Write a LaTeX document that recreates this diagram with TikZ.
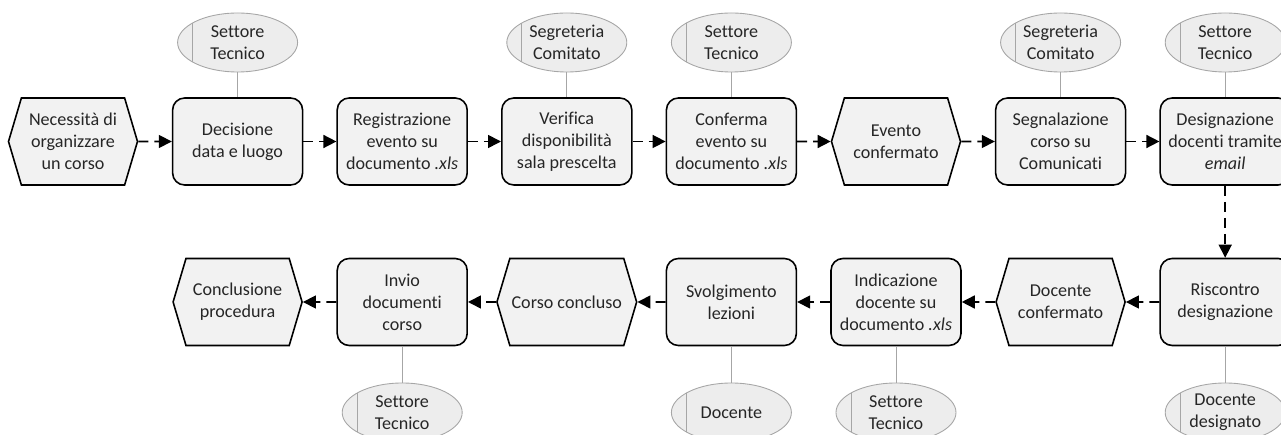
\documentclass[tikz,border=0pt]{standalone}
\usepackage{fontspec}
\setmainfont{Carlito}[Ligatures=NoCommon]
\usetikzlibrary{shapes.geometric,shapes.symbols,arrows.meta}
\definecolor{boxfill}{HTML}{F2F2F2}
\definecolor{rolefill}{HTML}{EDEDED}
\definecolor{roleline}{HTML}{A6A6A6}
\definecolor{txt}{HTML}{262626}

\begin{document}
\begin{tikzpicture}[
  every node/.style={font=\fontsize{10.3}{12.5}\selectfont,text=txt},
  func node/.style={draw,fill=boxfill,rounded corners=0.24cm,line width=0.9pt,
    minimum width=2.6cm,minimum height=1.74cm,align=center,inner sep=1pt},
  event node/.style={draw,fill=boxfill,signal,signal to=west and east,
    signal pointer angle=147,line width=0.9pt,minimum width=2.58cm,
    minimum height=1.74cm,align=center,inner sep=1pt},
  role node/.style={ellipse,draw=roleline,fill=rolefill,line width=0.5pt,
    minimum width=2.4cm,minimum height=1.18cm,align=center,inner sep=0pt,
    path picture={\draw[roleline,line width=0.5pt]
      ([xshift=0.3cm]path picture bounding box.north west) --
      ([xshift=0.3cm]path picture bounding box.south west);}},
  flow/.style={line width=0.9pt,dash pattern=on 0.2cm off 0.12cm,
    -{Triangle[length=0.26cm,width=0.26cm]}},
  link/.style={draw=roleline,line width=0.5pt}]

  \useasboundingbox (0,0) rectangle (25.62,-8.70);
  \clip (0,0) rectangle (25.62,-8.70);

  % upper row
  \node[event node] (need) at (1.46,-2.83){Necessità di\\organizzare\\un corso};
  \node[func node] (decide) at (4.752,-2.83){Decisione\\data e luogo};
  \node[func node] (register) at (8.044,-2.83){Registrazione\\evento su\\documento \textit{.xls}};
  \node[func node] (verify) at (11.336,-2.83){Verifica\\disponibilità\\sala prescelta};
  \node[func node] (confirm) at (14.628,-2.83){Conferma\\evento su\\documento \textit{.xls}};
  \node[event node] (evok) at (17.92,-2.83){Evento\\confermato};
  \node[func node] (announce) at (21.212,-2.83){Segnalazione\\corso su\\Comunicati};
  \node[func node] (assign) at (24.504,-2.83){Designazione\\docenti tramite\\\textit{email}};

  % lower row
  \node[func node] (check) at (24.504,-6.04){Riscontro\\designazione};
  \node[event node] (teachok) at (21.212,-6.04){Docente\\confermato};
  \node[func node] (note) at (17.92,-6.04){Indicazione\\docente su\\documento \textit{.xls}};
  \node[func node] (teach) at (14.628,-6.04){Svolgimento\\lezioni};
  \node[event node] (courseok) at (11.336,-6.04){Corso concluso};
  \node[func node] (send) at (8.044,-6.04){Invio\\documenti\\corso};
  \node[event node] (close) at (4.752,-6.04){Conclusione\\procedura};

  % roles
  \node[role node] (r1) at (4.752,-0.85){Settore\\Tecnico};
  \node[role node] (r2) at (11.336,-0.85){Segreteria\\Comitato};
  \node[role node] (r3) at (14.628,-0.85){Settore\\Tecnico};
  \node[role node] (r4) at (21.212,-0.85){Segreteria\\Comitato};
  \node[role node] (r5) at (24.504,-0.85){Settore\\Tecnico};
  \node[role node] (r6) at (24.504,-8.25){Docente\\designato};
  \node[role node] (r7) at (17.92,-8.25){Settore\\Tecnico};
  \node[role node] (r8) at (14.628,-8.25){Docente};
  \node[role node] (r9) at (8.044,-8.25){Settore\\Tecnico};

  \path[flow]
    (need) edge (decide)
    (decide) edge (register)
    (register) edge (verify)
    (verify) edge (confirm)
    (confirm) edge (evok)
    (evok) edge (announce)
    (announce) edge (assign)
    (assign) edge (check)
    (check) edge (teachok)
    (teachok) edge (note)
    (note) edge (teach)
    (teach) edge (courseok)
    (courseok) edge (send)
    (send) edge (close);

  \path[link]
    (r1) edge (decide)
    (r2) edge (verify)
    (r3) edge (confirm)
    (r4) edge (announce)
    (r5) edge (assign)
    (check) edge (r6)
    (note) edge (r7)
    (teach) edge (r8)
    (send) edge (r9);
\end{tikzpicture}
\end{document}
